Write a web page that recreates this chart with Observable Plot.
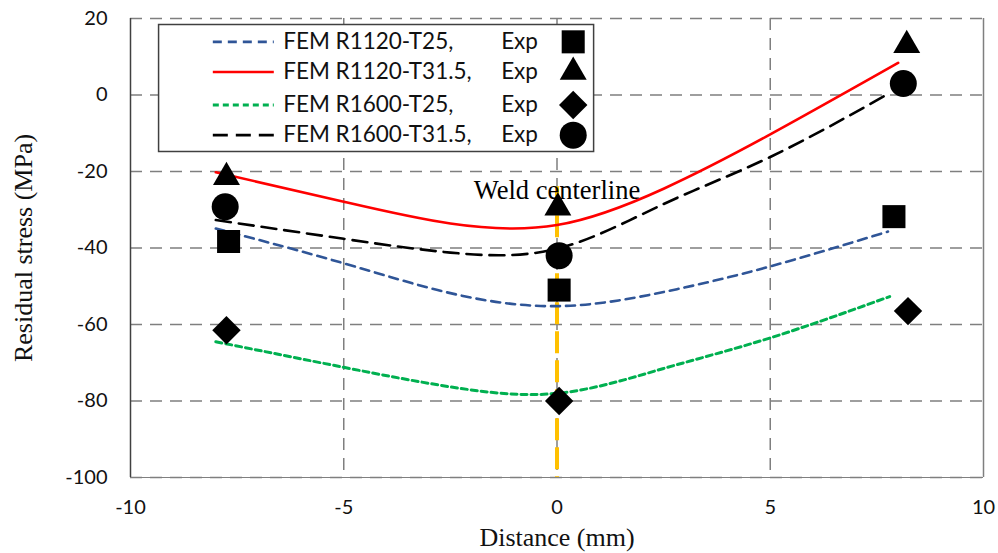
<!DOCTYPE html>
<html>
<head>
<meta charset="utf-8">
<script src="https://cdn.jsdelivr.net/npm/d3@7"></script>
<script src="https://cdn.jsdelivr.net/npm/@observablehq/plot@0.6"></script>
<style>
  html, body { margin: 0; padding: 0; background: #fff; }
  #chart svg { display: block; }
</style>
</head>
<body>
<div id="chart"></div>
<script>
// ---- Data ----
const seriesNames = ["FEM R1120-T25,", "FEM R1120-T31.5,", "FEM R1600-T25,", "FEM R1600-T31.5,"];
const expLabel = "Exp";

// FEM curves (x in mm, residual stress in MPa)
const femR1120T25_x   = [-8.0, -5, -2.5, 0, 2.5, 5, 7.76];
const femR1120T25_y   = [-34.9, -44, -51.8, -55.2, -51.5, -44.8, -35.7];
const femR1120T315_x  = [-8.0, -5, -2.5, 0, 2.5, 5, 8.0];
const femR1120T315_y  = [-20.2, -27.9, -33.6, -34, -24.5, -10.3, 8.4];
const femR1600T25_x   = [-8.0, -5, -2.5, 0, 2.5, 5, 7.8];
const femR1600T25_y   = [-64.5, -71.2, -76.3, -78, -71.5, -63.5, -52.7];
const femR1600T315_x  = [-8.0, -5, -2.5, 0, 2.5, 5, 7.8];
const femR1600T315_y  = [-32.7, -37.6, -41.2, -40.2, -28.5, -16.2, 0.5];

// Experimental points
const expR1120T25_x  = [-7.7, 0.05, 7.9];
const expR1120T25_y  = [-38.3, -51, -31.8];
const expR1120T315_x = [-7.75, 0.02, 8.2];
const expR1120T315_y = [-21.5, -29.5, 13];
const expR1600T25_x  = [-7.75, 0.05, 8.23];
const expR1600T25_y  = [-61.5, -80, -56.5];
const expR1600T315_x = [-7.78, 0.05, 8.12];
const expR1600T315_y = [-29.2, -42, 3];

const xTicks = [-10, -5, 0, 5, 10];
const yTicks = [20, 0, -20, -40, -60, -80, -100];
const weldX = 0;
const weldText = "Weld centerline";
const xLabel = "Distance (mm)";
const yLabel = "Residual stress (MPa)";

// ---- Styles ----
const lineStyles = [
  {stroke: "#2f5597", dash: "9,6", width: 2.6},
  {stroke: "#ff0000", dash: null, width: 2.6},
  {stroke: "#00b050", dash: "6,4", width: 3},
  {stroke: "#000000", dash: "15,8", width: 2.6}
];
const symbols = ["square", "triangle", "diamond2", "circle"];
const symbolR = [13, 10, 12.8, 13.5];

const zip = (xs, ys) => xs.map((x, i) => ({x, y: ys[i]}));
const femData = [
  zip(femR1120T25_x, femR1120T25_y),
  zip(femR1120T315_x, femR1120T315_y),
  zip(femR1600T25_x, femR1600T25_y),
  zip(femR1600T315_x, femR1600T315_y)
];
const expData = [
  zip(expR1120T25_x, expR1120T25_y),
  zip(expR1120T315_x, expR1120T315_y),
  zip(expR1600T25_x, expR1600T25_y),
  zip(expR1600T315_x, expR1600T315_y)
];

const tickFont = "Lato, 'Open Sans', sans-serif";
const serifFont = "'Liberation Serif', 'DejaVu Serif', serif";

// Legend placement (data coordinates)
const leg = {x1: -9.33, x2: 0.87, y1: 18.3, y2: -14.9, lx1: -8.07, lx2: -6.64, tx: -6.42, ex: -1.31, mx: 0.38, rows: [13.9, 6.0, -2.6, -10.5]};

const marks = [];
// grid
marks.push(Plot.ruleY(yTicks, {stroke: "#7f7f7f", strokeWidth: 1.5, strokeDasharray: "12,8"}));
marks.push(Plot.ruleX(xTicks.filter(d => d > -10 && d < 10), {stroke: "#7f7f7f", strokeWidth: 1.5, strokeDasharray: "12,8"}));
marks.push(Plot.ruleX([10], {stroke: "#7f7f7f", strokeWidth: 1.5}));
marks.push(Plot.ruleX([-10], {stroke: "#404040", strokeWidth: 1.5}));
marks.push(Plot.ruleY([-100], {stroke: "#7f7f7f", strokeWidth: 1}));
// weld centerline
marks.push(Plot.ruleX([weldX], {y1: -24, y2: -100, stroke: "#ffc000", strokeWidth: 4, strokeDasharray: "22,7"}));
// FEM curves
femData.forEach((d, i) => {
  const s = lineStyles[i];
  marks.push(Plot.line(d, {x: "x", y: "y", curve: "natural", stroke: s.stroke, strokeWidth: s.width, strokeDasharray: s.dash}));
});
// Exp markers
expData.forEach((d, i) => {
  marks.push(Plot.dot(d, {x: "x", y: "y", symbol: () => symbols[i], r: symbolR[i], fill: "black", stroke: "none"}));
});
// weld text
marks.push(Plot.text([weldText], {x: weldX, y: -25, text: d => d, fontFamily: serifFont, fontSize: 26.5, fill: "black"}));
// legend
marks.push(Plot.rect([0], {x1: leg.x1, x2: leg.x2, y1: leg.y1, y2: leg.y2, fill: "white", stroke: "#404040", strokeWidth: 1.5}));
seriesNames.forEach((name, i) => {
  const s = lineStyles[i];
  const yy = leg.rows[i];
  marks.push(Plot.link([0], {x1: leg.lx1, x2: leg.lx2, y1: yy, y2: yy, stroke: s.stroke, strokeWidth: s.width, strokeDasharray: s.dash}));
  marks.push(Plot.text([name], {x: leg.tx, y: yy, text: d => d, textAnchor: "start", fontFamily: tickFont, fontSize: 22.5, fill: "#111"}));
  marks.push(Plot.text([expLabel], {x: leg.ex, y: yy, text: d => d, textAnchor: "start", fontFamily: tickFont, fontSize: 22.5, fill: "#111"}));
  marks.push(Plot.dot([0], {x: leg.mx, y: yy, symbol: () => symbols[i], r: symbolR[i], fill: "black", stroke: "none"}));
});
// axes
marks.push(Plot.axisX(xTicks, {tickSize: 0, tickPadding: 22, fontSize: 20, fontFamily: tickFont, label: null, fill: "#111", tickFormat: d => String(d)}));
marks.push(Plot.axisY(yTicks, {tickSize: 0, tickPadding: 23, fontSize: 20, fontFamily: tickFont, label: null, fill: "#111", tickFormat: d => String(d)}));
marks.push(Plot.text([xLabel], {frameAnchor: "bottom", lineAnchor: "middle", dy: 60, text: d => d, fontFamily: serifFont, fontSize: 26, fill: "#111"}));
marks.push(Plot.text([yLabel], {frameAnchor: "left", textAnchor: "middle", lineAnchor: "middle", dx: -107, rotate: -90, text: d => d, fontFamily: serifFont, fontSize: 26, fill: "#111"}));

const chart = Plot.plot({
  width: 998,
  height: 553,
  marginLeft: 130,
  marginRight: 15,
  marginTop: 18,
  marginBottom: 76,
  style: {background: "white", overflow: "visible"},
  x: {domain: [-10, 10]},
  y: {domain: [-100, 20]},
  marks
});
document.getElementById("chart").appendChild(chart);
</script>
</body>
</html>
